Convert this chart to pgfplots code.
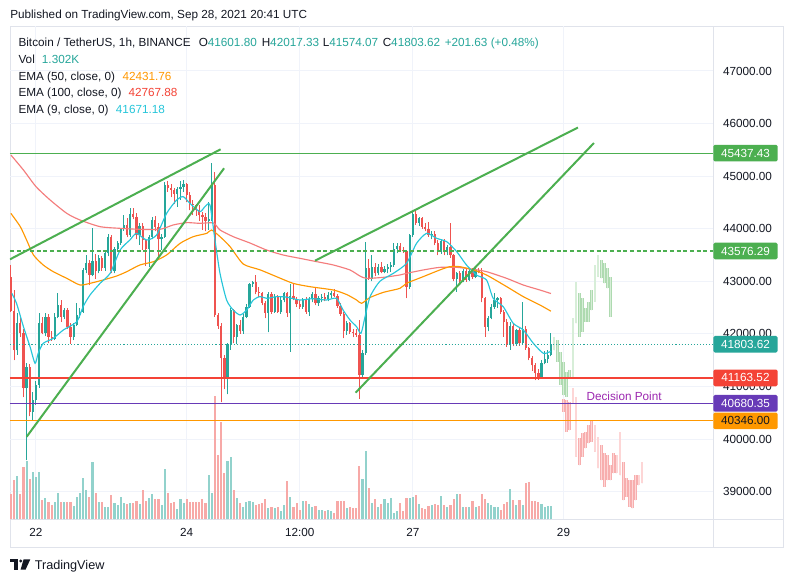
\documentclass[border=0pt]{standalone}
\usepackage{pgfplots}
\pgfplotsset{compat=1.18}
\usepackage{pgfplotstable}
\usepackage{fontspec}
\setmainfont{Liberation Sans}
\definecolor{tvteal}{HTML}{26A69A}
\definecolor{tvred}{HTML}{EF5350}
\definecolor{tvgreen}{HTML}{4CAF50}
\definecolor{tvorange}{HTML}{FF9800}
\definecolor{tvpurple}{HTML}{673AB7}
\definecolor{hred}{HTML}{F44336}
\definecolor{emacyan}{HTML}{26C6DA}
\definecolor{emared}{HTML}{F47C7C}
\definecolor{volred}{HTML}{F7A9A7}
\definecolor{volteal}{HTML}{92D2CC}
\definecolor{gridc}{HTML}{F0F3FA}
\definecolor{borderc}{HTML}{E0E3EB}
\definecolor{txt}{HTML}{131722}
\definecolor{dpc}{HTML}{9C27B0}
\definecolor{ghg}{HTML}{D7EED8}
\definecolor{ghgedge}{HTML}{AEDAB0}
\definecolor{ghr}{HTML}{FDD6D6}
\definecolor{ghredge}{HTML}{F7AEAE}
\newcommand{\uif}{\fontsize{8.8}{10}\selectfont}

\pgfplotstableread{
h o hi lo c v
-8 43090 43310 42420 42445 25
-7 42445 42840 41500 41690 39
-6 41690 42390 41600 42200 43
-5 42200 42300 41950 42010 25
-4 42010 42100 40800 40970 52
-3 40970 41450 39600 41380 58
-2 41380 41420 40430 40520 40
-1 40520 40900 40350 40750 47
0 40750 41100 40650 41030 42
1 41030 42400 40980 42200 47
2 42200 42330 41990 42010 19
3 42010 42390 41960 42330 21
4 42330 42380 41820 41950 17
5 41950 42050 41870 41900 14
6 41900 42390 41880 42330 17
7 42330 42770 42300 42550 26
8 42550 42650 42230 42330 17
9 42330 42500 42280 42450 17
10 42450 42500 42100 42140 17
11 42140 42200 41810 41950 17
12 41950 42210 41880 42170 13
13 42170 42580 42150 42360 22
14 42360 42500 42300 42420 26
15 42420 43250 42400 43220 41
16 43220 43500 43150 43340 29
17 43340 43400 42930 43120 22
18 43120 44010 43100 43380 57
19 43380 43520 43050 43200 26
20 43200 43500 43150 43440 17
21 43440 43480 43200 43250 17
22 43250 43600 43200 43530 12
23 43530 43900 43480 43850 12
24 43850 43880 43150 43190 24
25 43190 43650 43150 43620 16
26 43620 43760 43580 43720 14
27 43720 44010 43700 44000 22
28 44000 44270 43960 44070 16
29 44070 44200 43840 43880 15
30 43880 44390 43850 44290 16
31 44290 44390 44180 44230 16
32 44230 44300 43800 43880 18
33 43880 44100 43700 44050 15
34 44050 44100 43600 43780 29
35 43780 43800 43300 43620 18
36 43620 43880 43280 43850 21
37 43850 44230 43800 44170 25
38 44170 44250 43950 44040 20
39 44040 44100 43450 43800 20
40 43800 43900 43600 43850 14
41 43850 44880 43830 44830 50
42 44830 44900 44700 44770 26
43 44770 44860 44600 44740 16
44 44740 44770 44480 44670 17
45 44670 44800 44420 44760 10
46 44760 44900 44550 44800 20
47 44800 44930 44700 44860 16
48 44860 44870 44500 44640 20
49 44640 44700 44350 44480 17
50 44480 44540 44260 44450 17
51 44450 44480 44250 44360 17
52 44360 44450 44150 44260 17
53 44260 44320 43980 44230 20
54 44230 44300 43950 44140 16
55 44140 44500 43980 44180 44
56 44180 45250 44150 44830 26
57 44830 45080 42330 42360 123
58 42360 42400 42100 42150 64
59 42150 42200 40700 41540 97
60 41540 41600 40950 41190 46
61 41190 41820 40850 41800 58
62 41800 42500 41700 42450 62
63 42450 42480 41820 41950 29
64 41950 42190 41800 42170 21
65 42170 42260 42000 42050 16
66 42050 42380 42000 42330 12
67 42330 42560 42300 42520 17
68 42520 42960 42500 42940 18
69 42940 43000 42900 42990 17
70 42990 43120 42750 42800 14
71 42800 42900 42700 42770 15
72 42770 42800 42550 42590 16
73 42590 42620 42300 42400 20
74 42400 42800 42030 42750 11
75 42750 42800 42380 42420 12
76 42420 42760 42400 42710 11
77 42710 42740 42400 42420 12
78 42420 42700 42380 42650 8
79 42650 42800 42600 42770 14
80 42770 42790 42330 42390 38
81 42390 42950 41660 42720 22
82 42720 42960 42640 42660 12
83 42660 42700 42520 42560 16
84 42560 42650 42480 42520 9
85 42520 42680 42480 42650 18
86 42650 42700 42380 42420 18
87 42420 42700 42350 42660 15
88 42660 42800 42600 42760 12
89 42760 42900 42550 42580 13
90 42580 42720 42540 42680 9
91 42680 42750 42600 42710 9
92 42710 42780 42620 42660 8
93 42660 42800 42620 42740 9
94 42740 42820 42690 42780 8
95 42780 42850 42700 42720 6
96 42720 42760 42500 42540 18
97 42540 42580 42350 42380 18
98 42380 42420 41920 42060 18
99 42060 42250 41980 42200 11
100 42200 42230 42000 42040 12
101 42040 42100 41940 42010 11
102 42010 42100 41950 41980 11
103 41980 42260 40770 41220 53
104 41220 41700 41180 41630 40
105 41630 43750 41600 43250 68
106 43250 43420 43030 43050 31
107 43050 43500 43000 43280 16
108 43280 43350 43100 43150 20
109 43150 43330 43120 43280 12
110 43280 43360 43150 43180 15
111 43180 43300 43150 43230 20
112 43230 43330 43150 43280 16
113 43280 43360 43180 43320 21
114 43320 43730 43280 43620 6
115 43620 43720 43530 43680 8
116 43680 43720 43560 43600 16
117 43600 43650 43540 43570 8
118 43570 43600 42680 42900 21
119 42900 43900 42850 43880 21
120 43880 44330 43850 44290 22
121 44290 44380 44080 44110 24
122 44110 44230 44060 44200 15
123 44200 44230 44000 44040 11
124 44040 44100 43950 43990 10
125 43990 44130 43850 43880 13
126 43880 43950 43800 43900 14
127 43900 43950 43690 43720 15
128 43720 43780 43500 43560 14
129 43560 43800 43520 43760 23
130 43760 43800 43500 43550 14
131 43550 43700 43500 43660 12
132 43660 44100 43450 43500 14
133 43500 43520 43000 43050 20
134 43050 43180 42800 43150 25
135 43150 43200 42950 43000 25
136 43000 43230 42980 43200 12
137 43200 43250 42990 43030 12
138 43030 43250 43000 43200 12
139 43200 43260 43050 43090 18
140 43090 43250 43060 43220 12
141 43220 43260 43150 43180 13
142 43180 43250 42600 42680 25
143 42680 42700 41950 42140 20
144 42140 42350 42050 42300 16
145 42300 42560 42280 42520 14
146 42520 42780 42480 42640 12
147 42640 42700 42500 42680 12
148 42680 42700 42380 42420 9
149 42420 42450 41950 42230 15
150 42230 42280 41760 41790 17
151 41790 42230 41700 42150 30
152 42150 42200 41770 41800 19
153 41800 42100 41780 42080 14
154 42080 42110 41780 41820 19
155 41820 42610 41800 42100 14
156 42100 42150 41700 41730 36
157 41730 41760 41500 41540 37
158 41540 41580 41300 41400 18
159 41400 41450 41120 41250 18
160 41250 41340 41130 41180 17
161 41180 41500 41150 41450 15
162 41450 41680 41420 41520 12
163 41520 41700 41450 41600 13
164 41601.80 42017.33 41574.07 41803.62 13
}\candles

\pgfplotstableread{
h lo hi
165 41694 41948
166 41472 41884
167 41029 41663
168 40838 41472
169 40807 41282
170 41155 41314
171 41155 42296
172 42201 42981
173 41948 42772
174 42043 42677
175 42233 42487
176 42233 42613
177 42455 42835
178 42613 43311
179 43089 43501
180 43057 43406
181 42962 43342
182 42867 43247
183 42328 43089
}\ghostg

\pgfplotstableread{
h lo hi
168 40521 40756
169 40141 40743
170 40173 40712
171 40680 40965
172 39666 40807
173 39507 40014
174 39666 40109
175 39824 40141
176 39919 40268
177 39951 40363
178 39761 40268
179 39444 40046
180 39222 39888
181 39095 39729
182 39222 39697
183 39222 39507
184 39349 39729
185 39349 39697
186 39317 40141
187 38842 39571
188 38905 39254
189 38715 39222
190 38683 39222
191 38842 39317
192 39127 39317
193 39159 39571
}\ghostr

\pgfplotsset{
  bar/.style n args={2}{only marks, mark=*, mark size=0pt, mark options={draw=none, fill=none},
    error bars/y dir=plus, error bars/y explicit, error bars/error mark=none,
    error bars/error bar style={line width=#1, draw=#2, solid}},
}

\begin{document}
\begin{tikzpicture}
\fill[white] (0,0) rectangle (594.75pt,-436.5pt);
\begin{scope}[x=0.75pt,y=-0.75pt]
  \draw[borderc, line width=0.75pt] (10,26) rectangle (783,547);
  \draw[borderc, line width=0.75pt] (713,26) -- (713,547);
  \draw[borderc, line width=0.75pt] (10,519.3) -- (783,519.3);
  \node[anchor=base west, inner sep=0, text=txt, font=\uif] at (10,18.2) {Published on TradingView.com, Sep 28, 2021 20:41 UTC};
  % logo
  \fill[txt] (10,559.3) rectangle (18.3,562.3);
  \fill[txt] (14.2,559.3) rectangle (18.3,569.6);
  \fill[txt] (20.8,561) circle (1.6);
  \fill[txt] (23.6,559.3) -- (30.3,559.3) -- (25.6,569.6) -- (20.6,569.6) -- cycle;
  \node[anchor=base west, inner sep=0, text=txt, font=\fontsize{9.5}{11}\selectfont] at (34.5,569.5) {TradingView};
\end{scope}
\begin{axis}[
  at={(7.5pt,-389.475pt)}, anchor=south west,
  scale only axis, width=527.25pt, height=369.975pt,
  xmin=-8.28, xmax=215.61, ymin=38475, ymax=47855.6,
  clip mode=individual,
  axis line style={draw=none},
  xtick={0,48,84,120,168}, xticklabels={22,24,12:00,27,29},
  ytick={39000,40000,...,47000},
  scaled y ticks=false,
  major tick length=0pt,
  xmajorgrids, ymajorgrids, grid style={draw=gridc, line width=0.75pt},
  yticklabel pos=right,
  yticklabel={\pgfmathprintnumber[fixed,fixed zerofill,precision=2,1000 sep={},assume math mode=true]{\tick}},
  ticklabel style={font=\uif, text=txt},
  yticklabel style={anchor=center, xshift=25.9pt},
  xticklabel style={anchor=center, yshift=-10pt},
]
% volume
\addplot[bar={1.6pt}{volteal}, restrict expr to domain={\thisrow{c}-\thisrow{o}}{0:100000}]
  table[x=h, y expr=38475, y error plus expr={\thisrow{v}*19.016}] {\candles};
\addplot[bar={1.6pt}{volred}, restrict expr to domain={\thisrow{o}-\thisrow{c}}{0.001:100000}]
  table[x=h, y expr=38475, y error plus expr={\thisrow{v}*19.016}] {\candles};
% wicks
\addplot[bar={0.75pt}{tvteal}, restrict expr to domain={\thisrow{c}-\thisrow{o}}{0:100000}]
  table[x=h, y=lo, y error plus expr={\thisrow{hi}-\thisrow{lo}}] {\candles};
\addplot[bar={0.75pt}{tvred}, restrict expr to domain={\thisrow{o}-\thisrow{c}}{0.001:100000}]
  table[x=h, y=lo, y error plus expr={\thisrow{hi}-\thisrow{lo}}] {\candles};
% bodies
\addplot[bar={1.7pt}{tvteal}, restrict expr to domain={\thisrow{c}-\thisrow{o}}{0:100000}]
  table[x=h, y=o, y error plus expr={\thisrow{c}-\thisrow{o}}] {\candles};
\addplot[bar={1.7pt}{tvred}, restrict expr to domain={\thisrow{o}-\thisrow{c}}{0.001:100000}]
  table[x=h, y=c, y error plus expr={\thisrow{o}-\thisrow{c}}] {\candles};
% EMAs
\addplot[emared, line width=0.85pt, smooth, tension=0.4] coordinates {
(-8,45403) (-4,45117) (0,44801) (4.5,44547) (9.8,44293) (14,44167) (20.4,44040) (26.8,44008) (33.1,43989) (39.5,43989) (43.7,44072) (48,44116) (52.2,44103) (56.5,44110) (58.6,43977) (62.8,43850) (68.1,43730) (73.4,43596) (78.7,43501) (84,43438) (89.4,43374) (94.7,43311) (100,43216) (103.2,43100) (105.3,43057) (110.6,43076) (115.9,43121) (118,43152) (123.3,43216) (128.6,43266) (134,43266) (139.3,43228) (143.5,43184) (149.9,43057) (155.2,42930) (160.5,42835) (164,42768)};
\addplot[tvorange, line width=0.85pt, smooth, tension=0.4] coordinates {
(-8,44293) (-5,44040) (-3,43786) (-0.8,43501) (2.3,43311) (5.5,43184) (9.8,43057) (14,42931) (17.2,42962) (21.4,43026) (25.7,43102) (28.9,43184) (33.1,43311) (37.4,43374) (41.6,43501) (45.9,43723) (50.1,43850) (54.4,43913) (55.9,43977) (58.6,43850) (61.8,43660) (66,43330) (71.3,43220) (76.6,43089) (81.9,42962) (87.2,42899) (94.7,42835) (98.9,42750) (102.1,42645) (103.7,42582) (106.3,42690) (110.6,42790) (115.9,42867) (118,42962) (123.3,43089) (128.6,43216) (131.8,43279) (135,43279) (139.3,43216) (143.5,43120) (149.9,42899) (155.2,42709) (160.5,42550) (164,42432)};
\addplot[emacyan, line width=0.85pt, smooth, tension=0.4] coordinates {
(-7.7,42772) (-6.2,42582) (-4,42138) (-1.9,41758) (-0.3,41441) (0.7,41631) (2.3,41821) (5.5,41916) (8.7,42075) (13,42233) (15,42518) (17.2,42740) (20.4,42962) (23.6,43152) (26.8,43596) (29.9,43786) (32,43913) (35.2,43786) (38.4,43881) (41.6,44293) (44.8,44547) (46.9,44610) (49,44484) (52.2,44325) (53.8,44420) (55.4,44452) (57,43786) (58.6,43152) (60.7,42645) (62.8,42455) (65,42360) (67.1,42455) (69.2,42645) (71.3,42709) (73.5,42677) (76.6,42709) (79.8,42700) (84,42645) (88,42670) (92.5,42645) (95.7,42677) (97.8,42455) (100,42265) (102.1,42138) (103.5,42011) (104.8,42328) (106.4,42709) (109.5,43000) (113.8,43152) (118,43342) (121.2,43723) (124.4,43913) (127.6,43818) (130.8,43754) (134,43564) (137.1,43311) (140.3,43120) (143.5,43025) (145.6,42677) (148.8,42518) (152,42201) (155.2,42075) (158.4,41821) (161.6,41631) (164,41671)};
% ghost projections
\addplot[bar={2.1pt}{ghgedge}] table[x=h, y=lo, y error plus expr={\thisrow{hi}-\thisrow{lo}}] {\ghostg};
\addplot[bar={1.0pt}{ghg}] table[x=h, y=lo, y error plus expr={\thisrow{hi}-\thisrow{lo}}] {\ghostg};
\addplot[bar={2.1pt}{ghredge}] table[x=h, y=lo, y error plus expr={\thisrow{hi}-\thisrow{lo}}] {\ghostr};
\addplot[bar={1.0pt}{ghr}] table[x=h, y=lo, y error plus expr={\thisrow{hi}-\thisrow{lo}}] {\ghostr};
% horizontal levels
\addplot[tvgreen, line width=0.8pt] coordinates {(-8.28,45437.43) (215.61,45437.43)};
\addplot[tvgreen, line width=1.1pt, dash pattern=on 3pt off 2pt] coordinates {(-8.28,43576.29) (215.61,43576.29)};
\addplot[tvteal, line width=0.75pt, dash pattern=on 0.8pt off 1.5pt] coordinates {(-8.28,41803.62) (215.61,41803.62)};
\addplot[hred, line width=0.9pt] coordinates {(-8.28,41163.52) (215.61,41163.52)};
\addplot[tvpurple, line width=0.8pt] coordinates {(-8.28,40680.35) (215.61,40680.35)};
\addplot[tvorange, line width=0.8pt] coordinates {(-8.28,40346) (215.61,40346)};
% trend lines
\addplot[tvgreen, line width=1.5pt] coordinates {(-8.28,43419) (58.8,45511)};
\addplot[tvgreen, line width=1.5pt] coordinates {(-2.96,40046) (59.9,45150)};
\addplot[tvgreen, line width=1.5pt] coordinates {(88.85,43393) (172.6,45925)};
\addplot[tvgreen, line width=1.5pt] coordinates {(101.8,40883) (177.7,45631)};
\node[anchor=base, text=dpc, font=\uif, inner sep=0] at (axis cs:187.3,40727) {Decision Point};
\coordinate (lA) at (axis cs:225.96,45437.43);
\coordinate (lB) at (axis cs:225.96,43576.29);
\coordinate (lC) at (axis cs:225.96,41803.62);
\coordinate (lD) at (axis cs:225.96,41163.52);
\coordinate (lE) at (axis cs:225.96,40680.35);
\coordinate (lF) at (axis cs:225.96,40346);
\end{axis}
\tikzset{lbl/.style={inner sep=0, minimum width=48.3pt, minimum height=12.5pt, rounded corners=1.2pt, text=white, font=\uif}}
\node[lbl, fill=tvgreen] at (lA) {45437.43};
\node[lbl, fill=tvgreen] at (lB) {43576.29};
\node[lbl, fill=tvteal] at (lC) {41803.62};
\node[lbl, fill=hred] at (lD) {41163.52};
\node[lbl, fill=tvpurple] at (lE) {40680.35};
\node[lbl, fill=tvorange, text=txt] at (lF) {40346.00};
\begin{scope}[x=0.75pt,y=-0.75pt]
  \tikzset{lg/.style={anchor=base west, inner sep=0, text=txt, font=\uif}}
  \node[lg] at (18.3,46.5) {Bitcoin / TetherUS, 1h, BINANCE};
  \node[lg] at (198.5,46.5) {O\textcolor{tvteal}{41601.80}};
  \node[lg] at (261.5,46.5) {H\textcolor{tvteal}{42017.33}};
  \node[lg] at (322.5,46.5) {L\textcolor{tvteal}{41574.07}};
  \node[lg] at (382.5,46.5) {C\textcolor{tvteal}{41803.62}};
  \node[lg, text=tvteal] at (444.5,46.5) {+201.63 (+0.48\%)};
  \node[lg] at (18.3,63.5) {Vol};
  \node[lg, text=tvteal] at (41.7,63.5) {1.302K};
  \node[lg] at (18.3,80.2) {EMA (50, close, 0)};
  \node[lg, text=tvorange] at (122.3,80.2) {42431.76};
  \node[lg] at (18.3,96.9) {EMA (100, close, 0)};
  \node[lg, text=hred] at (128.3,96.9) {42767.88};
  \node[lg] at (18.3,113.5) {EMA (9, close, 0)};
  \node[lg, text=emacyan] at (115.7,113.5) {41671.18};
\end{scope}
\end{tikzpicture}
\end{document}
